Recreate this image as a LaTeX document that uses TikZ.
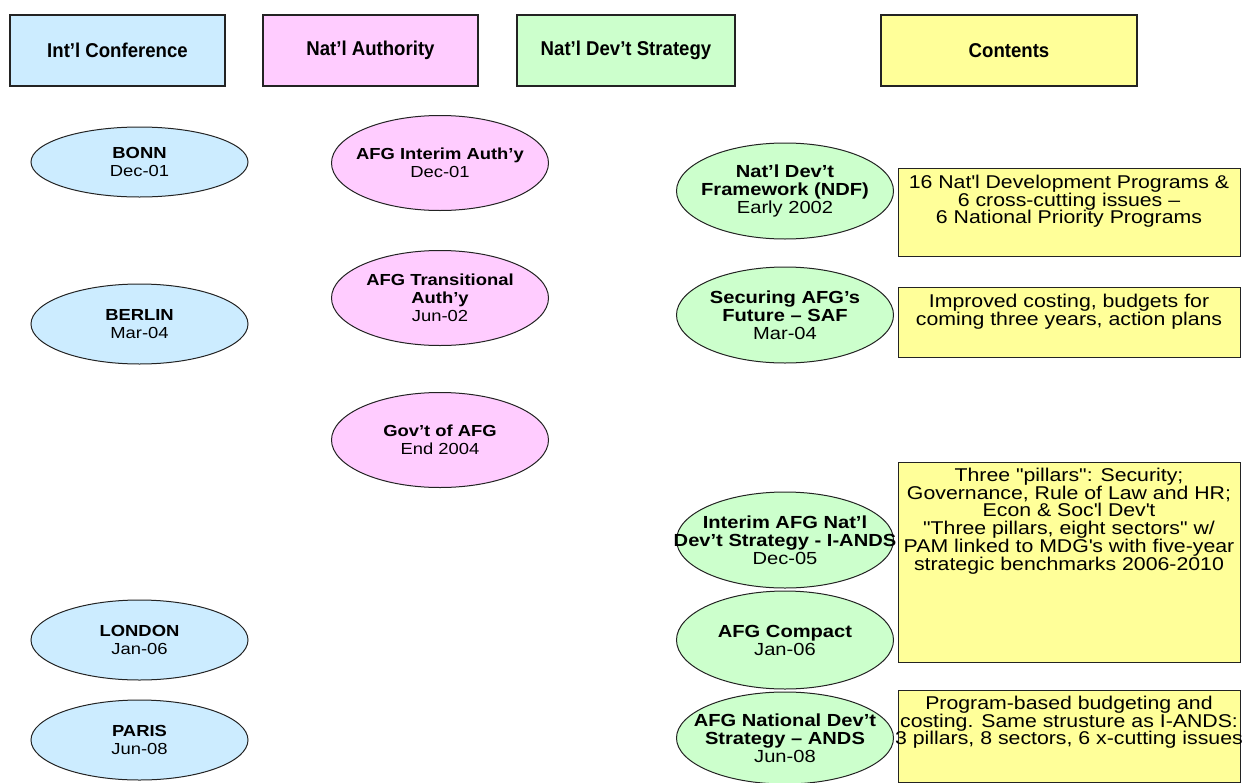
\documentclass[tikz,border=0pt]{standalone}
\usepackage{fontspec}
\setmainfont{Liberation Sans}
\newfontfamily\widefont{Liberation Sans}[FakeStretch=1.15]
\newfontfamily\hdrfont{Liberation Sans}[FakeStretch=0.93]
\usetikzlibrary{shapes.geometric}
\definecolor{cblue}{RGB}{204,236,255}
\definecolor{cpink}{RGB}{255,204,255}
\definecolor{cgreen}{RGB}{204,255,204}
\definecolor{cyellow}{RGB}{255,255,153}
\definecolor{edge}{RGB}{35,35,35}
\tikzset{
  hdr/.style={draw=edge, line width=1.2pt, minimum height=71pt, inner sep=0pt,
    font=\hdrfont\fontsize{20}{22}\selectfont\bfseries},
  ell/.style={ellipse, draw=edge, line width=1pt, inner sep=0pt, minimum width=217pt},
  etext/.style={align=center, inner sep=0pt, font=\widefont\fontsize{16}{18}\selectfont},
  etextb/.style={align=center, inner sep=0pt, font=\widefont\fontsize{17.5}{18}\selectfont},
  cbox/.style={draw=edge, line width=1pt, fill=cyellow},
  ctext/.style={anchor=north, align=center, inner sep=0pt, font=\widefont\fontsize{18.5}{17.9}\selectfont}
}
\begin{document}
\begin{tikzpicture}[x=1pt,y=-1pt]
\useasboundingbox (0,0) rectangle (1242,782);
% headers
\node[hdr, fill=cblue, minimum width=215pt] (h1) at (117.5,50.5) {Int’l Conference};
\node[hdr, fill=cpink, minimum width=215pt] (h2) at (370.5,50.5) {Nat’l Authority};
\node[hdr, fill=cgreen, minimum width=218pt] (h3) at (626,50.5) {Nat’l Dev’t Strategy};
\node[hdr, fill=cyellow, minimum width=256pt] (h4) at (1009,50.5) {Contents};
% column 1
\node[ell, fill=cblue, minimum height=70pt] (bonn) at (139.5,162) {};
\node[etext] (bonnt) at (bonn) {\textbf{BONN}\\Dec-01};
\node[ell, fill=cblue, minimum height=80pt] (berlin) at (139.5,324) {};
\node[etext] (berlint) at (berlin) {\textbf{BERLIN}\\Mar-04};
\node[ell, fill=cblue, minimum height=80pt] (london) at (139.5,640) {};
\node[etext] (londont) at (london) {\textbf{LONDON}\\Jan-06};
\node[ell, fill=cblue, minimum height=80pt] (paris) at (139.5,740) {};
\node[etext] (parist) at (paris) {\textbf{PARIS}\\Jun-08};
% column 2
\node[ell, fill=cpink, minimum height=95pt] (interim) at (440,163) {};
\node[etext] (interimt) at (interim) {\textbf{AFG Interim Auth’y}\\Dec-01};
\node[ell, fill=cpink, minimum height=95pt] (trans) at (440,298) {};
\node[etext] (transt) at (trans) {\textbf{AFG Transitional}\\\textbf{Auth’y}\\Jun-02};
\node[ell, fill=cpink, minimum height=95pt] (govt) at (440,440) {};
\node[etext] (govtt) at (govt) {\textbf{Gov’t of AFG}\\End 2004};
% column 3
\node[ell, fill=cgreen, minimum height=96pt] (ndf) at (785,191) {};
\node[etextb] (ndft) at (ndf) {\textbf{Nat’l Dev’t}\\\textbf{Framework (NDF)}\\Early 2002};
\node[ell, fill=cgreen, minimum height=96pt] (saf) at (785,315) {};
\node[etextb] (saft) at (saf) {\textbf{Securing AFG’s}\\\textbf{Future – SAF}\\Mar-04};
\node[ell, fill=cgreen, minimum height=96pt] (iands) at (785,540) {};
\node[etextb] (iandst) at (iands) {\textbf{Interim AFG Nat’l}\\\textbf{Dev’t Strategy - I-ANDS}\\Dec-05};
\node[ell, fill=cgreen, minimum height=98pt] (compact) at (785,640) {};
\node[etextb] (compactt) at (compact) {\textbf{AFG Compact}\\Jan-06};
\node[ell, fill=cgreen, minimum height=92pt] (ands) at (785,738) {};
\node[etextb] (andst) at (ands) {\textbf{AFG National Dev’t}\\\textbf{Strategy – ANDS}\\Jun-08};
% contents
\node[cbox, minimum width=342pt, minimum height=88pt, inner sep=0pt] (c1) at (1069,212) {};
\node[ctext] (c1t) at ([yshift=-7pt]c1.north) {16 Nat\textquotesingle l Development Programs \&\\6 cross-cutting issues –\\6 National Priority Programs};
\node[cbox, minimum width=342pt, minimum height=70pt, inner sep=0pt] (c2) at (1069,322) {};
\node[ctext] (c2t) at ([yshift=-7pt]c2.north) {Improved costing, budgets for\\coming three years, action plans};
\node[cbox, minimum width=342pt, minimum height=200pt, inner sep=0pt] (c3) at (1069,562) {};
\node[ctext] (c3t) at ([yshift=-6pt]c3.north) {Three \symbol{34}pillars\symbol{34}: Security;\\Governance, Rule of Law and HR;\\Econ \& Soc\textquotesingle l Dev\textquotesingle t\\ \symbol{34}Three pillars, eight sectors\symbol{34} w/\\PAM linked to MDG\textquotesingle s with five-year\\strategic benchmarks 2006-2010};
\node[cbox, minimum width=342pt, minimum height=92pt, inner sep=0pt] (c4) at (1069,736) {};
\node[ctext] (c4t) at ([yshift=-6pt]c4.north) {Program-based budgeting and\\costing. Same strusture as I-ANDS:\\3 pillars, 8 sectors, 6 x-cutting issues};
\end{tikzpicture}
\end{document}
